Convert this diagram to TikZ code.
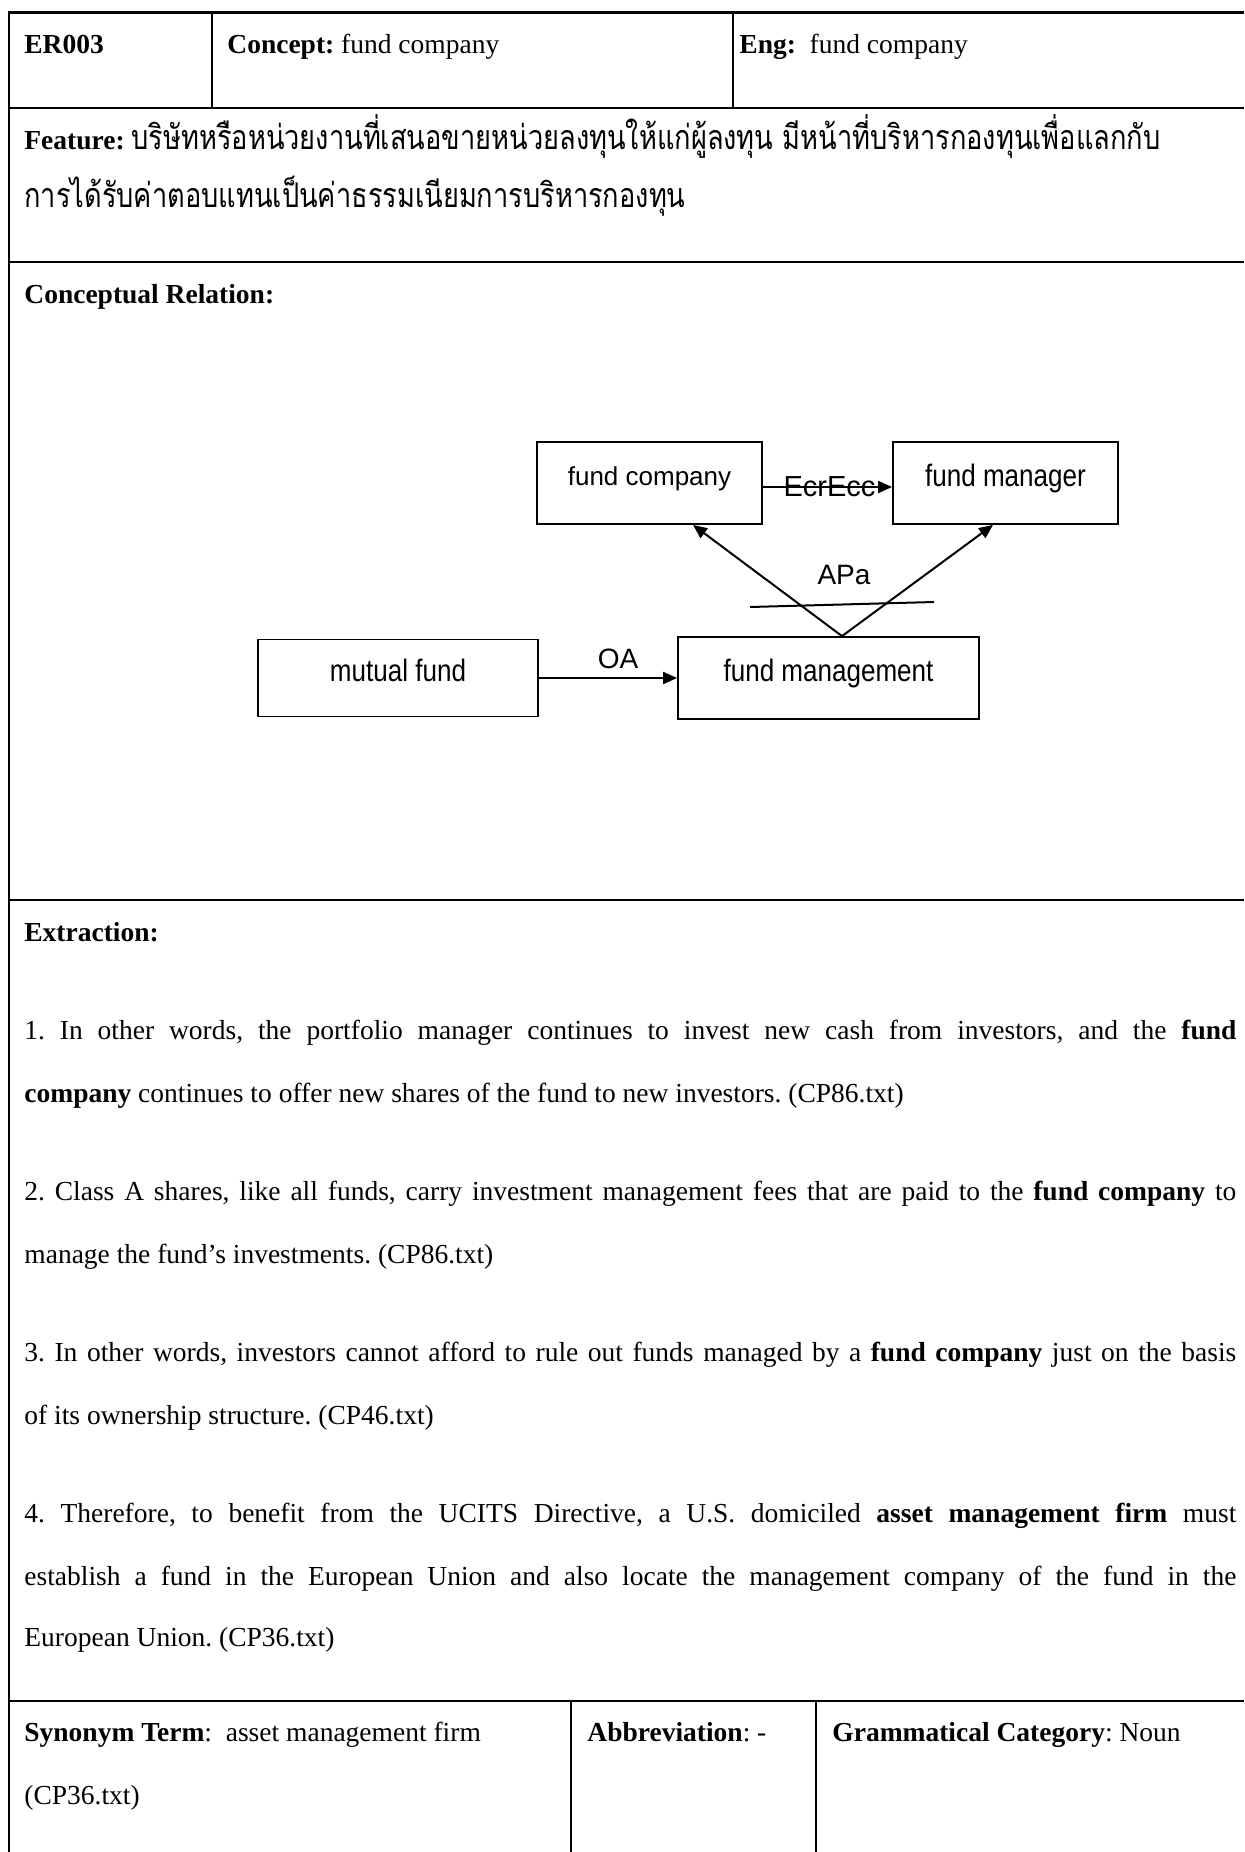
\documentclass[tikz,border=0pt]{standalone}
\usepackage{fontspec}
\setmainfont{Liberation Serif}
\newfontfamily\diagfont{Liberation Sans}
\newfontfamily\narrowfont[FakeStretch=0.84]{Liberation Sans}
\newfontfamily\thaifont[Script=Thai,FakeStretch=0.8]{Loma}
\usetikzlibrary{arrows.meta}
\frenchspacing
\begin{document}
\begin{tikzpicture}[x=0.5pt,y=-0.5pt,
  txt/.style={anchor=base west,inner sep=0pt,font=\fontsize{13.75}{16}\selectfont},
  hrule/.style={line width=1.25pt},
  vrule/.style={line width=1pt},
  ebox/.style={draw,line width=0.9pt,inner sep=0pt,text height=0.72em,text depth=0.43em,
    font=\diagfont\fontsize{13}{15}\selectfont},
  nbox/.style={ebox,text depth=0.33em,font=\narrowfont\fontsize{15.5}{18}\selectfont},
  conn/.style={line width=1pt,-{Triangle[length=7pt,width=6pt]}},
  lab/.style={inner sep=0pt,font=\diagfont\fontsize{14}{16}\selectfont}
]
\fill[white] (0,0) rectangle (1244,1852);
\useasboundingbox (0,0) rectangle (1244,1852);

% table frame
\draw[hrule] (1244,12.5) -- (9,12.5) -- (9,1852);
\draw[hrule] (9,108) -- (1244,108);
\draw[hrule] (9,262) -- (1244,262);
\draw[hrule] (9,900) -- (1244,900);
\draw[hrule] (9,1701) -- (1244,1701);
\draw[vrule] (212,12.5) -- (212,108);
\draw[vrule] (733,12.5) -- (733,108);
\draw[vrule] (571,1701) -- (571,1852);
\draw[vrule] (816,1701) -- (816,1852);

% header row
\node[txt] (id) at (24,53) {\textbf{ER003}};
\node[txt] (concept) at (227,53) {\textbf{Concept:} fund company};
\node[txt] (eng) at (739,53) {\textbf{Eng:}\ \ fund company};

% feature
\node[txt] (feat1) at (24,149) {\textbf{Feature:} {\thaifont\fontsize{17}{20}\selectfont บริษัทหรือหน่วยงานที่เสนอขายหน่วยลงทุนให้แก่ผู้ลงทุน มีหน้าที่บริหารกองทุนเพื่อแลกกับ}};
\node[txt] (feat2) at (24,207) {\thaifont\fontsize{17}{20}\selectfont การได้รับค่าตอบแทนเป็นค่าธรรมเนียมการบริหารกองทุน};

% conceptual relation
\node[txt] (crel) at (24,303) {\textbf{Conceptual Relation:}};

\node[ebox,minimum width=112.5pt,minimum height=41pt] (fc) at (649.5,483) {fund company};
\node[nbox,minimum width=112.5pt,minimum height=41pt] (fm) at (1005.5,483) {fund manager};
\node[nbox,minimum width=140pt,minimum height=38.5pt] (mf) at (398,678) {mutual fund};
\node[nbox,minimum width=150.5pt,minimum height=41pt] (fmg) at (828.5,678) {fund management};

\draw[conn] ([yshift=-2pt]fc.east) -- ([yshift=-2pt]fm.west)
  node[lab,midway,xshift=1pt,font=\diagfont\fontsize{14.5}{16}\selectfont] {EcrEcc};
\draw[conn] (mf.east) -- (fmg.west)
  node[lab,midway,above=4pt,xshift=5pt] {OA};
\coordinate (apex) at ([xshift=6.75pt]fmg.north);
\draw[conn] (apex) -- ([xshift=21.75pt]fc.south);
\draw[conn] (apex) -- ([xshift=-6.25pt]fm.south);
\coordinate (cutA) at (750,607);
\coordinate (cutB) at (934,602);
\draw[line width=1pt] (cutA) -- (cutB);
\node[lab] (apa) at (844,575) {APa};

% extraction
\node[txt] (ext) at (24,941) {\textbf{Extraction:}};
\node[txt] (e1a) at (24,1039) {\makebox[606pt][s]{1. In other words, the portfolio manager continues to invest new cash from investors, and the \textbf{fund}}};
\node[txt] (e1b) at (24,1102) {\textbf{company} continues to offer new shares of the fund to new investors. (CP86.txt)};
\node[txt] (e2a) at (24,1200) {\makebox[606pt][s]{2. Class A shares, like all funds, carry investment management fees that are paid to the \textbf{fund company} to}};
\node[txt] (e2b) at (24,1263) {manage the fund’s investments. (CP86.txt)};
\node[txt] (e3a) at (24,1361) {\makebox[606pt][s]{3. In other words, investors cannot afford to rule out funds managed by a \textbf{fund company} just on the basis}};
\node[txt] (e3b) at (24,1424) {of its ownership structure. (CP46.txt)};
\node[txt] (e4a) at (24,1522) {\makebox[606pt][s]{4. Therefore, to benefit from the UCITS Directive, a U.S. domiciled \textbf{asset management firm} must}};
\node[txt] (e4b) at (24,1585) {\makebox[606pt][s]{establish a fund in the European Union and also locate the management company of the fund in the}};
\node[txt] (e4c) at (24,1646) {European Union. (CP36.txt)};

% bottom row
\node[txt] (syn1) at (24,1741) {\textbf{Synonym Term}:\ \ asset management firm};
\node[txt] (syn2) at (24,1804) {(CP36.txt)};
\node[txt] (abbr) at (587,1741) {\textbf{Abbreviation}: -};
\node[txt] (gram) at (832,1741) {\textbf{Grammatical Category}: Noun};
\end{tikzpicture}
\end{document}
